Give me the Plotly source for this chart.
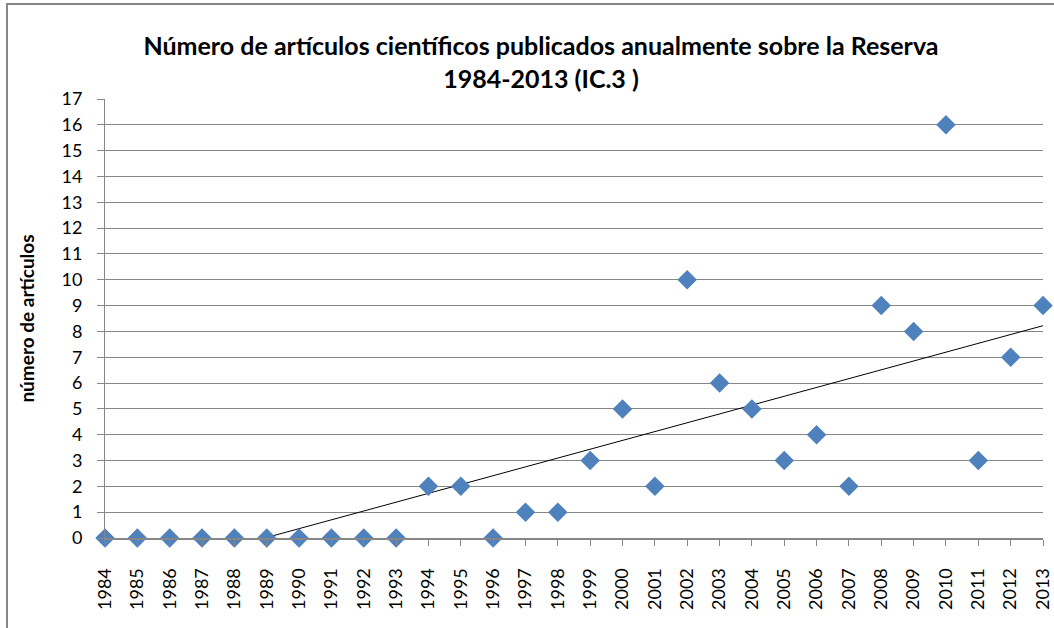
import numpy as np
import plotly.graph_objects as go

years = list(range(1984, 2014))
articles = [0, 0, 0, 0, 0, 0, 0, 0, 0, 0,
            2, 2, 0, 1, 1, 3, 5, 2, 10, 6,
            5, 3, 4, 2, 9, 8, 16, 3, 7, 9]
year_labels = [str(y) for y in years]
y_ticks = list(range(0, 18))

title_text = "Número de artículos científicos publicados anualmente sobre la Reserva<br>1984-2013 (IC.3 )"
y_title = "número de artículos"

# Linear trend (Excel-style) computed from the data
idx = np.arange(1, len(years) + 1)
slope, intercept = np.polyfit(idx, np.array(articles, dtype=float), 1)
x0_idx = max(1.0, -intercept / slope)
trend_x = [years[0] + x0_idx - 1, years[-1]]
trend_y = [slope * x0_idx + intercept, slope * idx[-1] + intercept]

W, H = 1054, 628
L, R, T, B = 105, 11, 99, 90
pw, ph = W - L - R, H - T - B
FONT = "Lato"

fig = go.Figure()
fig.add_trace(go.Scatter(
    x=trend_x, y=trend_y, mode="lines",
    line=dict(color="black", width=1), hoverinfo="skip", showlegend=False))
fig.add_trace(go.Scatter(
    x=years, y=articles, mode="markers",
    marker=dict(symbol="diamond", size=15, color="#4F81BD"),
    cliponaxis=False, showlegend=False))

fig.update_layout(
    width=W, height=H,
    margin=dict(l=L, r=R, t=T, b=B, autoexpand=False),
    paper_bgcolor="white", plot_bgcolor="white",
    title=dict(text=title_text, xref="container", x=541 / W, xanchor="center",
               yref="container", y=1 - 55 / H, yanchor="top",
               font=dict(family=FONT, size=25, color="black", weight="bold")),
    xaxis=dict(range=[1984, 2013], tickmode="array", tickvals=years, ticktext=year_labels,
               tickangle=-90, showgrid=False, showline=True, linecolor="#868686", linewidth=2,
               ticks="outside", ticklen=6, tickcolor="#868686", tickwidth=1,
               ticklabelstandoff=15, automargin=False,
               tickfont=dict(family=FONT, size=18, color="black"),
               zeroline=False),
    yaxis=dict(range=[0, 17], tickmode="array", tickvals=y_ticks,
               showgrid=True, gridcolor="#868686", gridwidth=1,
               showline=True, linecolor="#868686", linewidth=1,
               ticks="outside", ticklen=7, tickcolor="#868686",
               ticklabelstandoff=11, automargin=False,
               tickfont=dict(family=FONT, size=18, color="black"),
               zeroline=False,
               title=dict(text=y_title, standoff=21,
                          font=dict(family=FONT, size=19, color="black", weight="bold"))),
)

fig.add_shape(type="rect", xref="paper", yref="paper",
              x0=-(L - 7) / pw, x1=(W + 20 - L) / pw,
              y0=-(B + 30) / ph, y1=1 + (T - 4) / ph,
              line=dict(color="#868686", width=2), fillcolor="rgba(0,0,0,0)", layer="above")

fig.write_html("out.html", config={"displayModeBar": False},
               post_script="document.body.style.margin='0px';")
